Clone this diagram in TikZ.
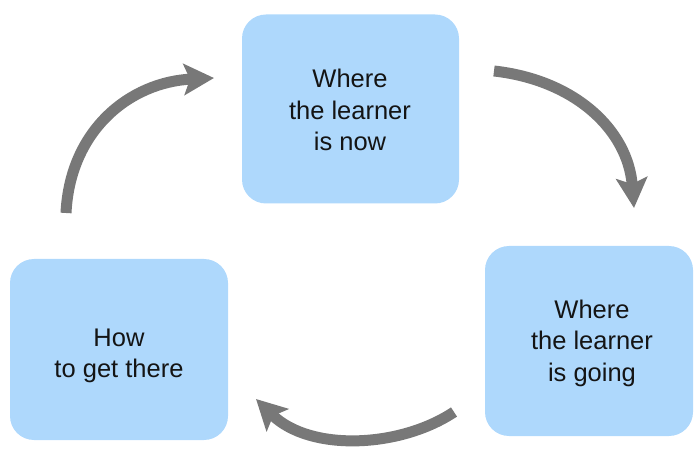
\documentclass[tikz,border=0pt]{standalone}
\usepackage{fontspec}
\setmainfont{Liberation Sans}
\usetikzlibrary{arrows.meta}
\definecolor{boxblue}{RGB}{174,216,252}
\definecolor{arrowgray}{RGB}{120,120,120}
\tikzset{
  stagebox/.style={fill=boxblue, draw=none, rounded corners=24pt},
  stagetext/.style={align=center, font=\fontsize{25.5}{31.5}\selectfont, text=black!92},
  cyclearrow/.style={draw=arrowgray, line width=11pt,
    -{Stealth[width=31pt,length=30pt,inset=6pt]}}
}
\begin{document}
\begin{tikzpicture}[x=1pt,y=-1pt]
\useasboundingbox (0,0) rectangle (694,449);
\node[stagebox, minimum width=217pt, minimum height=189pt] (now) at (350.5,109) {};
\node[stagebox, minimum width=208pt, minimum height=190pt] (going) at (589,341) {};
\node[stagebox, minimum width=218pt, minimum height=181pt] (how) at (119,349.5) {};
\node[stagetext] (nowtext) at (350,110) {Where\\the learner\\is now};
\node[stagetext] (goingtext) at (592,343) {Where\\the learner\\is going};
\node[stagetext] (howtext) at (119,356) {How\\to get there};
\coordinate (a1s) at (494,71);
\coordinate (a1e) at (634,208);
\coordinate (a2s) at (454,412);
\coordinate (a2e) at (256,399);
\coordinate (a3s) at (66,213);
\coordinate (a3e) at (214,78);
\draw[cyclearrow] (a1s) .. controls (575,80) and (628,130) .. (a1e);
\draw[cyclearrow] (a2s) .. controls (400,448) and (310,452) .. (a2e);
\draw[cyclearrow] (a3s) .. controls (70,130) and (130,82) .. (a3e);
\end{tikzpicture}
\end{document}
